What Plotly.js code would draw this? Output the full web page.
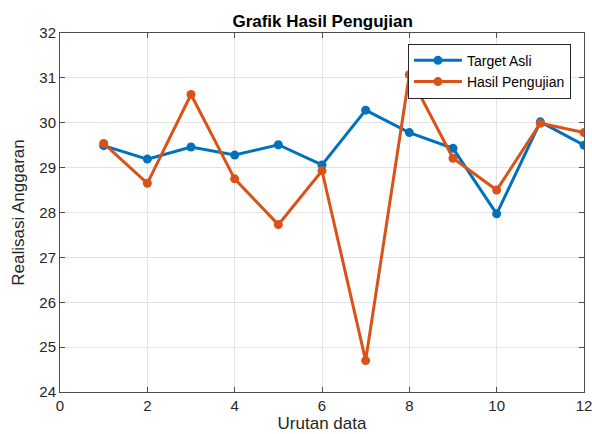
<!DOCTYPE html>
<html>
<head>
<meta charset="utf-8">
<script src="https://cdn.plot.ly/plotly-3.0.1.min.js"></script>
<style>html,body{margin:0;padding:0;background:#fff;}#chart{width:592px;height:434px;}</style>
</head>
<body>
<div id="chart"></div>
<script>
const urutan = [1, 2, 3, 4, 5, 6, 7, 8, 9, 10, 11, 12];
const targetAsli = [29.49, 29.19, 29.46, 29.28, 29.51, 29.06, 30.28, 29.78, 29.43, 27.97, 30.02, 29.5];
const hasilPengujian = [29.54, 28.65, 30.63, 28.75, 27.73, 28.93, 24.7, 31.07, 29.21, 28.5, 29.99, 29.78];
const xTicks = [0, 2, 4, 6, 8, 10, 12];
const yTicks = [24, 25, 26, 27, 28, 29, 30, 31, 32];

const font = 'Liberation Sans, Arial, sans-serif';
const traces = [
  {x: urutan, y: targetAsli, name: 'Target Asli', mode: 'lines+markers',
   line: {color: '#0072BD', width: 3}, marker: {color: '#0072BD', size: 9}},
  {x: urutan, y: hasilPengujian, name: 'Hasil Pengujian', mode: 'lines+markers',
   line: {color: '#D95319', width: 3}, marker: {color: '#D95319', size: 9}}
];
const axisCommon = {
  showline: true, mirror: 'ticks', linecolor: '#4d4d4d', linewidth: 1,
  ticks: 'inside', ticklen: 5, tickcolor: '#4d4d4d',
  showgrid: true, gridcolor: '#e3e3e3', gridwidth: 1, zeroline: false,
  ticklabeloverflow: 'allow',
  tickfont: {family: font, size: 15, color: '#262626'}
};
const layout = {
  width: 592, height: 434,
  margin: {l: 60, r: 8, t: 33, b: 42},
  paper_bgcolor: '#ffffff', plot_bgcolor: '#ffffff',
  title: {text: '<b>Grafik Hasil Pengujian</b>', x: 0.545, xanchor: 'center', y: 0.952, yanchor: 'middle',
          font: {family: font, size: 17, color: '#000'}},
  xaxis: Object.assign({}, axisCommon, {range: [0, 12], tickvals: xTicks, ticktext: xTicks.map(String),
          title: {text: 'Urutan data', font: {family: font, size: 17, color: '#262626'}, standoff: 3}}),
  yaxis: Object.assign({}, axisCommon, {range: [24, 32], tickvals: yTicks, ticktext: yTicks.map(String),
          title: {text: 'Realisasi Anggaran', font: {family: font, size: 17, color: '#262626'}, standoff: 10}}),
  legend: {x: 0.664, y: 0.97, xanchor: 'left', yanchor: 'top', bgcolor: '#ffffff',
           bordercolor: '#262626', borderwidth: 1, font: {family: font, size: 14, color: '#000'},
           tracegroupgap: 0, itemwidth: 48},
  showlegend: true
};
Plotly.newPlot('chart', traces, layout, {displayModeBar: false, staticPlot: true});
</script>
</body>
</html>
